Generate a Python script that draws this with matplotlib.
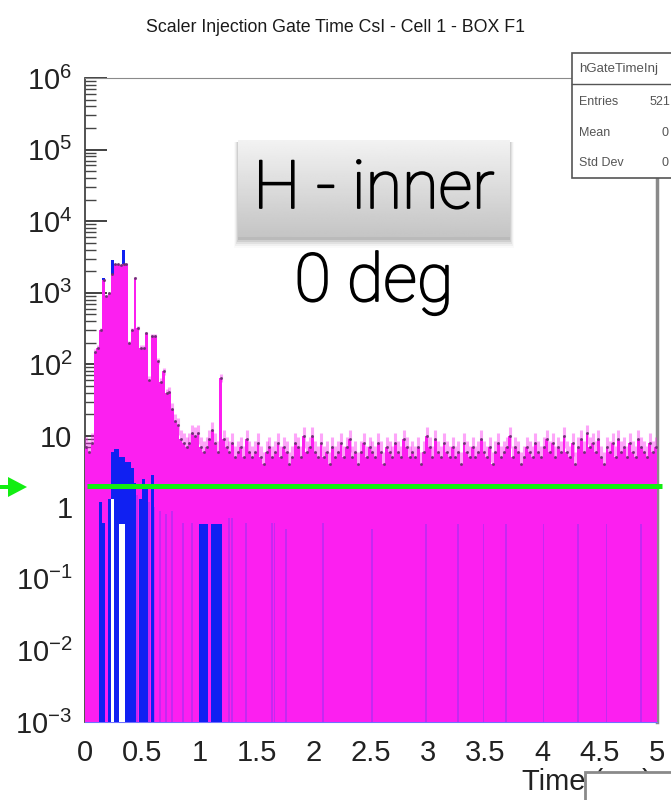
import numpy as np
import matplotlib
matplotlib.use("Agg")
from matplotlib import pyplot as plt
from matplotlib import patheffects
from matplotlib.patches import Rectangle, Polygon
from matplotlib.ticker import FixedLocator, LogLocator, NullFormatter

plt.rcParams['font.family'] = ['Liberation Sans', 'DejaVu Sans']
plt.rcParams['mathtext.fontset'] = 'custom'
plt.rcParams['mathtext.rm'] = 'Liberation Sans'
plt.rcParams['mathtext.it'] = 'Liberation Sans:italic'
plt.rcParams['mathtext.bf'] = 'Liberation Sans:bold'

# ---- data, bins of 0.025 ms over 0-5 ms ----
bin_width = 0.025
n_bins = 200

# magenta histogram, 0 - 1.2 ms
peak_counts = [7, 6, 8, 150, 170, 300, 1500, 900,
               1000, 1800, 2500, 2500, 2400, 2500, 2500, 200,
               300, 1600, 320, 170, 170, 270, 60, 250,
               250, 110, 57, 80, 39, 41, 24, 16,
               14, 9, 8, 7, 8, 11, 10, 11,
               7, 6, 7, 9, 12, 8, 6, 65]
# magenta histogram, 1.2 - 5 ms (flat part)
flat_counts = [9, 7, 6, 8, 5, 6, 7, 5, 9, 6,
               5, 6, 8, 5, 4, 6, 7, 5, 6, 8,
               5, 7, 6, 4, 5, 8, 7, 5, 10, 6,
               7, 10, 6, 5, 8, 5, 6, 4, 7, 5,
               6, 8, 5, 7, 9, 5, 6, 4, 6, 8,
               5, 7, 6, 5, 8, 6, 4, 7, 6, 5,
               8, 6, 5, 9, 7, 5, 6, 5, 7, 4,
               6, 10, 7, 5, 9, 6, 5, 8, 6, 5,
               7, 5, 6, 4, 8, 6, 5, 7, 5, 6,
               9, 6, 5, 7, 4, 6, 8, 5, 6, 7,
               10, 5, 7, 6, 4, 5, 7, 6, 5, 8,
               6, 5, 7, 9, 6, 8, 5, 7, 6, 10,
               6, 5, 8, 4, 7, 9, 6, 11, 7, 8,
               6, 9, 5, 4, 7, 6, 8, 5, 9, 6,
               7, 5, 8, 6, 5, 9, 7, 6, 5, 8,
               6, 7]

# blue histogram tips sticking out above the magenta one (0 - 1.2 ms)
blue_tips = [0, 0, 0, 0, 0, 0, 1600, 0,
             0, 2900, 0, 0, 0, 4000, 0, 0,
             0, 0, 0, 0, 0, 0, 0, 0,
             0, 0, 0, 0, 0, 0, 0, 0,
             0, 0, 0, 0, 0, 0, 0, 0,
             0, 0, 0, 0, 0, 0, 0, 0]
# blue showing at the bottom of the columns (0 - 1.2 ms)
blue_low = [0, 0, 0, 0, 0, 1.2, 0.6, 0,
            1.3, 6, 6.5, 6.5, 5, 5, 4.3, 4.3,
            3.5, 2.2, 0, 1.3, 2.5, 2.0, 0, 2.8,
            0, 0, 0, 0, 0, 0, 0, 0,
            0, 0, 0, 0, 0, 0, 0, 0,
            0.58, 0.58, 0.58, 0, 0.58, 0.58, 0.58, 0.58]
# empty (white) columns
white_gap = [0, 0, 0, 0, 0, 0, 0, 0,
             0, 1.3, 0, 0, 0.58, 0.58, 0, 0]
# thin violet stripes: bin start (ms) and height
violet_t = [0.45, 0.55, 0.6, 0.65, 0.7, 0.75, 0.85, 0.925, 1.25, 1.275,
            1.4, 1.625, 1.65, 1.75, 2.075, 2.5, 2.975, 3.25, 3.475, 3.675,
            4.0, 4.3, 4.55, 4.85]
violet_h = [1.5, 1.2, 1.0, 0.9, 0.8, 0.9, 0.6, 0.6, 0.7, 0.7,
            0.6, 0.6, 0.6, 0.5, 0.6, 0.5, 0.58, 0.58, 0.58, 0.58,
            0.58, 0.58, 0.58, 0.58]

green_level = 2.0

x_ticks = [0, 0.5, 1, 1.5, 2, 2.5, 3, 3.5, 4, 4.5, 5]
x_tick_labels = ["0", "0.5", "1", "1.5", "2", "2.5", "3", "3.5", "4", "4.5", "5"]
y_ticks = [1e-3, 1e-2, 1e-1, 1, 10, 1e2, 1e3, 1e4, 1e5, 1e6]
y_tick_labels = [r"$10^{-3}$", r"$10^{-2}$", r"$10^{-1}$", "1", "10",
                 r"$10^{2}$", r"$10^{3}$", r"$10^{4}$", r"$10^{5}$", r"$10^{6}$"]

stat_names = ["Entries", "Mean", "Std Dev"]
stat_values = ["521", "0", "0"]

MAGENTA = "#fc1ff0"
BLUE = "#1020f2"
YMIN = 1e-3

W, H = 671, 800
fig = plt.figure(figsize=(W / 100, H / 100), dpi=100)


def fx(x):
    return x / W


def fy(y):
    return 1 - y / H


ax = fig.add_axes([fx(85), fy(722), fx(657) - fx(85), fy(78) - fy(722)])
ax.set_yscale('log')

edges = np.arange(n_bins + 1) * bin_width
counts = np.array(peak_counts + flat_counts, dtype=float)
npk = len(peak_counts)


def clip(v):
    return np.clip(np.array(v, dtype=float), YMIN, None)


ax.stairs(clip(blue_tips), edges[:npk + 1], baseline=YMIN, fill=True,
          color=BLUE, zorder=3)
ax.stairs(counts, edges, baseline=YMIN, fill=True, color=MAGENTA, zorder=4)
centers = edges[:-1] + bin_width / 2
ax.errorbar(centers, counts, yerr=np.sqrt(counts), fmt='none',
            ecolor=MAGENTA, elinewidth=2.2, alpha=0.4, zorder=4.2)
ax.plot(centers, counts, ls='none', marker='o', ms=1.2, color='#6a3070',
        alpha=0.8, zorder=4.4)
ax.stairs(clip(blue_low), edges[:npk + 1], baseline=YMIN, fill=True,
          color=BLUE, zorder=5)
ax.stairs(clip(white_gap), edges[:len(white_gap) + 1], baseline=YMIN,
          fill=True, color='white', zorder=5.5)
ax.bar(violet_t, np.array(violet_h) - YMIN, width=bin_width * 0.6,
       bottom=YMIN, align='edge', color='#9a30f2', alpha=0.55,
       linewidth=0, zorder=5)
ax.plot([0.02, 5.04], [green_level, green_level], color='#12ee12', lw=3.6,
        solid_capstyle='butt', clip_on=False, zorder=6)

ax.set_xlim(0, 5)
ax.set_ylim(YMIN, 1e6)
ax.xaxis.set_major_locator(FixedLocator(x_ticks))
ax.set_xticklabels(x_tick_labels)
ax.yaxis.set_major_locator(FixedLocator(y_ticks))
ax.set_yticklabels(y_tick_labels)
ax.yaxis.set_minor_locator(LogLocator(base=10, subs=np.arange(2, 10), numticks=30))
ax.yaxis.set_minor_formatter(NullFormatter())
ax.tick_params(axis='both', which='major', direction='in', labelsize=21,
               colors='#333333', labelcolor='#222222')
ax.tick_params(axis='y', which='major', length=16, width=1.3, pad=9)
ax.tick_params(axis='y', which='minor', direction='in', length=8, width=1.0,
               colors='#444444')
ax.tick_params(axis='x', which='major', length=14, pad=12)
for side in ['top', 'right']:
    ax.spines[side].set_color('#8a8a8a')
ax.spines['right'].set_linewidth(2.5)
ax.spines['left'].set_color('#444444')
ax.spines['left'].set_linewidth(1.3)
ax.spines['bottom'].set_color('#7070ff')

# title
fig.text(fx(336), fy(27), "Scaler Injection Gate Time CsI - Cell 1 - BOX F1",
         ha='center', va='center', fontsize=12.8, color='#1a1a1a')

# stats box (cut by the image edge)
fig.patches.append(Rectangle((fx(572), fy(178)), fx(720) - fx(572),
                             fy(53) - fy(178), transform=fig.transFigure,
                             facecolor='white', edgecolor='#555555', lw=1.2,
                             zorder=8))
fig.add_artist(plt.Line2D([fx(572), fx(720)], [fy(84), fy(84)],
                          transform=fig.transFigure, color='#555555', lw=1.0,
                          zorder=9))
fig.text(fx(579), fy(69), "hGateTimeInj", fontsize=9.5, color='#555555',
         va='center', zorder=9)
stat_x = [650, 662, 662]
for i, (name, val) in enumerate(zip(stat_names, stat_values)):
    yy = 102 + 30.5 * i
    fig.text(fx(579), fy(yy), name, fontsize=9, color='#555555',
             va='center', zorder=9)
    fig.text(fx(stat_x[i]), fy(yy), val, fontsize=9, color='#555555',
             va='center', zorder=9)

# "H - inner" label box with shadow
for k, a in enumerate([0.10, 0.08, 0.06, 0.04, 0.02]):
    fig.patches.append(Rectangle((fx(238 - k), fy(240 + 2 * k)), fx(272 + 2 * k),
                                 (240 + 2 * k - 142) / H,
                                 transform=fig.transFigure, facecolor='black',
                                 alpha=a, lw=0, zorder=5))
bax = fig.add_axes([fx(238), fy(237), fx(510) - fx(238), fy(140) - fy(237)],
                   zorder=10)
grad = np.linspace(0.95, 0.77, 100)[:, None]
bax.imshow(grad, cmap='gray', vmin=0, vmax=1, aspect='auto',
           extent=[0, 1, 0, 1])
bax.axis('off')
thicken = [patheffects.withStroke(linewidth=1.3, foreground='black')]
fig.text(fx(374), fy(190), "H - inner", ha='center', va='center',
         fontsize=48, fontweight='light', family=['Roboto', 'DejaVu Sans'],
         color='black', zorder=11, path_effects=thicken)
fig.text(fx(374), fy(283), "0 deg", ha='center', va='center',
         fontsize=48, fontweight='light', family=['Roboto', 'DejaVu Sans'],
         color='black', zorder=11, path_effects=thicken)

# green arrow on the left
fig.patches.append(Polygon([(fx(0), fy(485)), (fx(8), fy(485)), (fx(8), fy(477)),
                            (fx(27), fy(487)), (fx(8), fy(497)), (fx(8), fy(489)),
                            (fx(0), fy(489))], closed=True,
                           transform=fig.transFigure, facecolor='#12ee12',
                           lw=0, zorder=12))

# x-axis title, partly hidden by a box
fig.text(fx(652), fy(790), "Time (ms)", ha='right', va='baseline',
         fontsize=21, color='#222222', zorder=12)
fig.patches.append(Rectangle((fx(585), fy(830)), fx(720) - fx(585),
                             fy(772) - fy(830), transform=fig.transFigure,
                             facecolor='white', edgecolor='#8a8a8a', lw=2,
                             zorder=20))

fig.savefig("out.png", dpi=100)
